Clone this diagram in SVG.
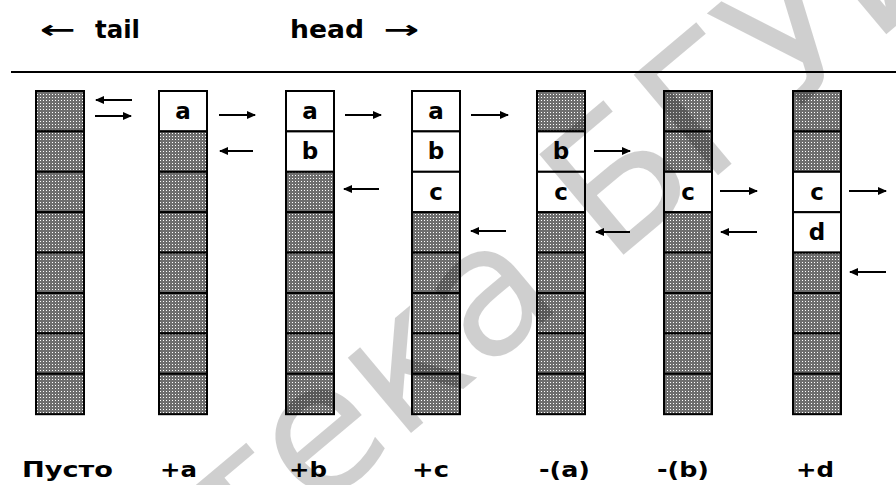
<svg xmlns="http://www.w3.org/2000/svg" width="896" height="485" viewBox="0 0 896 485">
<style>
.s{fill:url(#dots);stroke:#000;stroke-width:2}
.w{fill:#fff;stroke:#000;stroke-width:2}
.ch{font-family:"DejaVu Sans",sans-serif;font-weight:bold;font-size:23px;text-anchor:middle;fill:#000}
.hd{font-family:"DejaVu Sans",sans-serif;font-weight:bold;font-size:25px;fill:#000}
.lb{font-family:"DejaVu Sans",sans-serif;font-weight:bold;font-size:22px;fill:#000}
.ar{stroke:#000;stroke-width:2;fill:none;marker-end:url(#ah)}
.wm{font-family:"DejaVu Sans",sans-serif;font-size:180px;fill:#000;fill-opacity:0.19}
</style>
<defs>
<pattern id="dots" width="3" height="3" patternUnits="userSpaceOnUse"><rect width="3" height="3" fill="#6e6e6e"/><rect x="1" y="1" width="1" height="1" fill="#fff"/></pattern>
<marker id="ah" markerWidth="10" markerHeight="10" refX="8" refY="4" orient="auto" markerUnits="userSpaceOnUse"><path d="M0,0 L9,4 L0,8 z" fill="#000"/></marker>
</defs>
<rect width="896" height="485" fill="#fff"/>
<g id="header">
<text class="hd" y="38"><tspan x="40" textLength="36" lengthAdjust="spacingAndGlyphs">←</tspan><tspan x="95" textLength="45" lengthAdjust="spacingAndGlyphs">tail</tspan></text>
<text class="hd" y="38"><tspan x="290" textLength="74" lengthAdjust="spacingAndGlyphs">head</tspan><tspan x="383" textLength="36" lengthAdjust="spacingAndGlyphs">→</tspan></text>
<line x1="11" y1="72" x2="896" y2="72" stroke="#000" stroke-width="2"/>
</g>
<g id="col-empty">
<rect class="s" x="36" y="91" width="48" height="40.4"/><rect class="s" x="36" y="131.4" width="48" height="40.4"/><rect class="s" x="36" y="171.8" width="48" height="40.4"/><rect class="s" x="36" y="212.2" width="48" height="40.4"/><rect class="s" x="36" y="252.6" width="48" height="40.4"/><rect class="s" x="36" y="293" width="48" height="40.4"/><rect class="s" x="36" y="333.4" width="48" height="40.4"/><rect class="s" x="36" y="373.8" width="48" height="40.4"/>
</g>
<g id="col-a">
<rect class="w" x="159" y="91" width="48" height="40.4"/><rect class="s" x="159" y="131.4" width="48" height="40.4"/><rect class="s" x="159" y="171.8" width="48" height="40.4"/><rect class="s" x="159" y="212.2" width="48" height="40.4"/><rect class="s" x="159" y="252.6" width="48" height="40.4"/><rect class="s" x="159" y="293" width="48" height="40.4"/><rect class="s" x="159" y="333.4" width="48" height="40.4"/><rect class="s" x="159" y="373.8" width="48" height="40.4"/>
<text class="ch" x="183" y="119">a</text>
</g>
<g id="col-b">
<rect class="w" x="286" y="91" width="48" height="40.4"/><rect class="w" x="286" y="131.4" width="48" height="40.4"/><rect class="s" x="286" y="171.8" width="48" height="40.4"/><rect class="s" x="286" y="212.2" width="48" height="40.4"/><rect class="s" x="286" y="252.6" width="48" height="40.4"/><rect class="s" x="286" y="293" width="48" height="40.4"/><rect class="s" x="286" y="333.4" width="48" height="40.4"/><rect class="s" x="286" y="373.8" width="48" height="40.4"/>
<text class="ch" x="310" y="119">a</text><text class="ch" x="310" y="159.4">b</text>
</g>
<g id="col-c">
<rect class="w" x="412" y="91" width="48" height="40.4"/><rect class="w" x="412" y="131.4" width="48" height="40.4"/><rect class="w" x="412" y="171.8" width="48" height="40.4"/><rect class="s" x="412" y="212.2" width="48" height="40.4"/><rect class="s" x="412" y="252.6" width="48" height="40.4"/><rect class="s" x="412" y="293" width="48" height="40.4"/><rect class="s" x="412" y="333.4" width="48" height="40.4"/><rect class="s" x="412" y="373.8" width="48" height="40.4"/>
<text class="ch" x="436" y="119">a</text><text class="ch" x="436" y="159.4">b</text><text class="ch" x="436" y="199.8">c</text>
</g>
<g id="col-minus-a">
<rect class="s" x="537" y="91" width="48" height="40.4"/><rect class="w" x="537" y="131.4" width="48" height="40.4"/><rect class="w" x="537" y="171.8" width="48" height="40.4"/><rect class="s" x="537" y="212.2" width="48" height="40.4"/><rect class="s" x="537" y="252.6" width="48" height="40.4"/><rect class="s" x="537" y="293" width="48" height="40.4"/><rect class="s" x="537" y="333.4" width="48" height="40.4"/><rect class="s" x="537" y="373.8" width="48" height="40.4"/>
<text class="ch" x="561" y="159.4">b</text><text class="ch" x="561" y="199.8">c</text>
</g>
<g id="col-minus-b">
<rect class="s" x="664" y="91" width="48" height="40.4"/><rect class="s" x="664" y="131.4" width="48" height="40.4"/><rect class="w" x="664" y="171.8" width="48" height="40.4"/><rect class="s" x="664" y="212.2" width="48" height="40.4"/><rect class="s" x="664" y="252.6" width="48" height="40.4"/><rect class="s" x="664" y="293" width="48" height="40.4"/><rect class="s" x="664" y="333.4" width="48" height="40.4"/><rect class="s" x="664" y="373.8" width="48" height="40.4"/>
<text class="ch" x="688" y="199.8">c</text>
</g>
<g id="col-d">
<rect class="s" x="793" y="91" width="48" height="40.4"/><rect class="s" x="793" y="131.4" width="48" height="40.4"/><rect class="w" x="793" y="171.8" width="48" height="40.4"/><rect class="w" x="793" y="212.2" width="48" height="40.4"/><rect class="s" x="793" y="252.6" width="48" height="40.4"/><rect class="s" x="793" y="293" width="48" height="40.4"/><rect class="s" x="793" y="333.4" width="48" height="40.4"/><rect class="s" x="793" y="373.8" width="48" height="40.4"/>
<text class="ch" x="817" y="199.8">c</text><text class="ch" x="817" y="240.2">d</text>
</g>
<g id="connectors">
<line class="ar" x1="132" y1="100" x2="96" y2="100"/><line class="ar" x1="95" y1="116" x2="131" y2="116"/>
<line class="ar" x1="219" y1="115" x2="255" y2="115"/><line class="ar" x1="253" y1="151" x2="220" y2="151"/>
<line class="ar" x1="345" y1="115" x2="381" y2="115"/><line class="ar" x1="379" y1="189" x2="344" y2="189"/>
<line class="ar" x1="471" y1="115" x2="508" y2="115"/><line class="ar" x1="506" y1="231" x2="471" y2="231"/>
<line class="ar" x1="594" y1="151" x2="630" y2="151"/><line class="ar" x1="630" y1="232" x2="596" y2="232"/>
<line class="ar" x1="720" y1="191" x2="757" y2="191"/><line class="ar" x1="757" y1="232" x2="721" y2="232"/>
<line class="ar" x1="849" y1="191" x2="886" y2="191"/><line class="ar" x1="886" y1="272" x2="850" y2="272"/>
</g>
<g id="labels">
<text class="lb" x="22" y="477" textLength="91" lengthAdjust="spacingAndGlyphs">Пусто</text>
<text class="lb" x="160" y="477" textLength="37" lengthAdjust="spacingAndGlyphs">+a</text>
<text class="lb" x="289" y="477" textLength="38" lengthAdjust="spacingAndGlyphs">+b</text>
<text class="lb" x="412" y="477" textLength="37" lengthAdjust="spacingAndGlyphs">+c</text>
<text class="lb" x="539" y="477" textLength="51" lengthAdjust="spacingAndGlyphs">-(a)</text>
<text class="lb" x="657" y="477" textLength="52" lengthAdjust="spacingAndGlyphs">-(b)</text>
<text class="lb" x="796" y="477" textLength="38" lengthAdjust="spacingAndGlyphs">+d</text>
</g>
<g id="watermark">
<text class="wm" x="-816" y="0" transform="rotate(-3 500 270) translate(315,494) rotate(-37)">Библиотека БГУИР</text>
</g>
</svg>
